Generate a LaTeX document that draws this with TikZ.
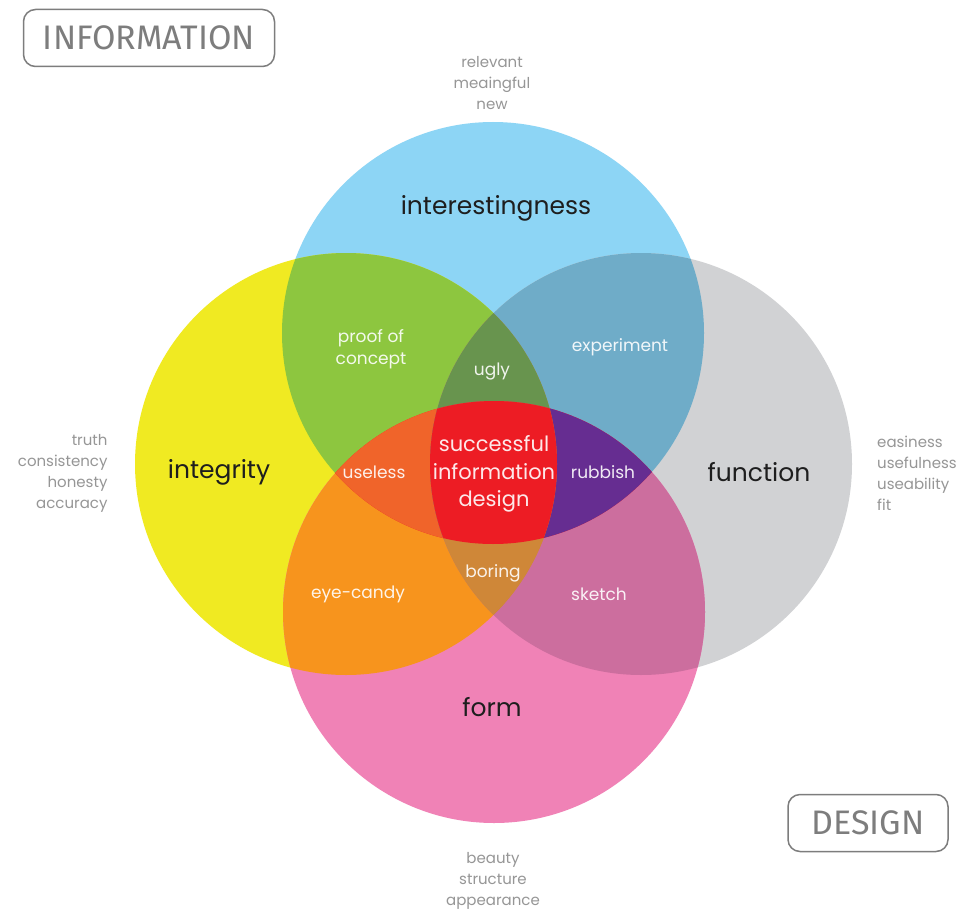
\documentclass[tikz,border=0pt]{standalone}
\usepackage{fontspec}
\setmainfont{Poppins}
\newfontfamily\boxfont{Fira Sans}
\definecolor{cblue}{RGB}{141,213,245}
\definecolor{cyellow}{RGB}{240,234,34}
\definecolor{cgray}{RGB}{209,210,212}
\definecolor{cpink}{RGB}{240,130,182}
\definecolor{cgreen}{RGB}{141,198,63}
\definecolor{cteal}{RGB}{111,172,200}
\definecolor{corange}{RGB}{247,148,29}
\definecolor{cmauve}{RGB}{204,110,158}
\definecolor{colive}{RGB}{104,148,78}
\definecolor{cvermilion}{RGB}{240,100,42}
\definecolor{cpurple}{RGB}{102,45,145}
\definecolor{cbrown}{RGB}{207,135,56}
\definecolor{cred}{RGB}{237,28,36}
\definecolor{labeldark}{RGB}{30,30,30}
\definecolor{sidegray}{RGB}{150,150,150}
\definecolor{boxgray}{RGB}{125,125,125}
\tikzset{
  big label/.style={font=\fontsize{25}{30}\selectfont, text=labeldark},
  small label/.style={font=\fontsize{17}{22}\selectfont, text=white, text opacity=.9, align=center},
  side text/.style={font=\fontsize{15}{21}\selectfont, text=sidegray},
  corner box/.style={draw=boxgray, line width=1.5pt, rounded corners=12pt,
    inner sep=0pt, minimum height=57pt,
    font=\boxfont\fontsize{34}{34}\selectfont, text=boxgray}
}
\def\circTop{(493,333) circle[radius=211pt]}
\def\circLeft{(346,464) circle[radius=211pt]}
\def\circRight{(641,464) circle[radius=211pt]}
\def\circBottom{(494,612) circle[radius=211pt]}
\begin{document}
\begin{tikzpicture}[x=1pt,y=-1pt]
\useasboundingbox (0,0) rectangle (960,912);
\fill[white] (0,0) rectangle (960,912);
% Single circles
\fill[cblue] \circTop;
\fill[cyellow] \circLeft;
\fill[cgray] \circRight;
\fill[cpink] \circBottom;
% Two circles
\begin{scope} \clip \circTop; \fill[cgreen] \circLeft; \end{scope}
\begin{scope} \clip \circTop; \fill[cteal] \circRight; \end{scope}
\begin{scope} \clip \circLeft; \fill[corange] \circBottom; \end{scope}
\begin{scope} \clip \circRight; \fill[cmauve] \circBottom; \end{scope}
\begin{scope} \clip \circTop; \fill[cred] \circBottom; \end{scope}
\begin{scope} \clip \circLeft; \fill[cbrown] \circRight; \end{scope}
% Three circles
\begin{scope} \clip \circTop; \clip \circLeft; \fill[colive] \circRight; \end{scope}
\begin{scope} \clip \circTop; \clip \circLeft; \fill[cvermilion] \circBottom; \end{scope}
\begin{scope} \clip \circTop; \clip \circRight; \fill[cpurple] \circBottom; \end{scope}
\begin{scope} \clip \circLeft; \clip \circRight; \fill[cbrown] \circBottom; \end{scope}
% All four
\begin{scope} \clip \circTop; \clip \circLeft; \clip \circRight; \fill[cred] \circBottom; \end{scope}
% Circle names
\node[big label] (interest) at (496,208) {interestingness};
\node[big label] (integrity) at (219,472) {integrity};
\node[big label] (function) at (759,472) {function};
\node[big label] (form) at (492,707) {form};
% Overlap names
\node[small label] (proof) at (371,349) {proof of\\concept};
\node[small label] (ugly) at (492,372) {ugly};
\node[small label] (experiment) at (620,347) {experiment};
\node[small label] (useless) at (374,472) {useless};
\node[small label, font=\fontsize{21}{27.5}\selectfont] (success) at (494,474) {successful\\information\\design};
\node[small label] (rubbish) at (603,472) {rubbish};
\node[small label] (eyecandy) at (358,594) {eye-candy};
\node[small label] (boring) at (493,573) {boring};
\node[small label] (sketch) at (599,594) {sketch};
% Words round the outside
\node[side text, align=center] (topwords) at (492,83) {relevant\\meaingful\\new};
\node[side text, align=right, anchor=east] (leftwords) at (111,473) {truth\\consistency\\honesty\\accuracy};
\node[side text, align=left, anchor=west, inner sep=0pt] (rightwords) at (877,473) {easiness\\usefulness\\useability\\fit};
\node[side text, align=center] (bottomwords) at (493,881) {beauty\\structure\\appearance};
% Corner boxes
\node[corner box, minimum width=251pt] (information) at (149,38) {INFORMATION};
\node[corner box, minimum width=160pt] (design) at (868,823) {DESIGN};
\end{tikzpicture}
\end{document}
